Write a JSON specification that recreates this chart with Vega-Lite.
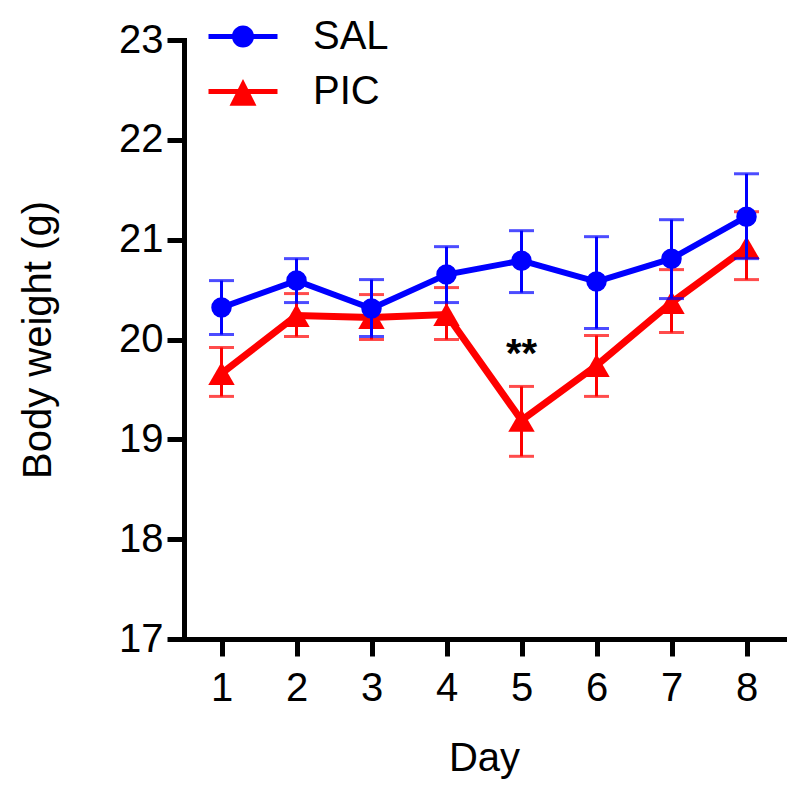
{
  "$schema": "https://vega.github.io/schema/vega-lite/v6.json",
  "width": 600,
  "height": 599,
  "autosize": "none",
  "padding": {"left": 184, "top": 40, "right": 16, "bottom": 157},
  "background": "white",
  "data": {
    "values": [
      {"day": 1, "group": "PIC", "mean": 19.66, "lo": 19.43, "hi": 19.92},
      {"day": 2, "group": "PIC", "mean": 20.24, "lo": 20.03, "hi": 20.46},
      {"day": 3, "group": "PIC", "mean": 20.22, "lo": 20.0, "hi": 20.45},
      {"day": 4, "group": "PIC", "mean": 20.25, "lo": 20.0, "hi": 20.52},
      {"day": 5, "group": "PIC", "mean": 19.19, "lo": 18.83, "hi": 19.53},
      {"day": 6, "group": "PIC", "mean": 19.74, "lo": 19.43, "hi": 20.04},
      {"day": 7, "group": "PIC", "mean": 20.37, "lo": 20.07, "hi": 20.7},
      {"day": 8, "group": "PIC", "mean": 20.92, "lo": 20.6, "hi": 21.28},
      {"day": 1, "group": "SAL", "mean": 20.32, "lo": 20.05, "hi": 20.59},
      {"day": 2, "group": "SAL", "mean": 20.59, "lo": 20.37, "hi": 20.81},
      {"day": 3, "group": "SAL", "mean": 20.31, "lo": 20.03, "hi": 20.6},
      {"day": 4, "group": "SAL", "mean": 20.65, "lo": 20.37, "hi": 20.93},
      {"day": 5, "group": "SAL", "mean": 20.79, "lo": 20.47, "hi": 21.09},
      {"day": 6, "group": "SAL", "mean": 20.58, "lo": 20.11, "hi": 21.03},
      {"day": 7, "group": "SAL", "mean": 20.81, "lo": 20.41, "hi": 21.2},
      {"day": 8, "group": "SAL", "mean": 21.23, "lo": 20.81, "hi": 21.66}
    ]
  },
  "encoding": {
    "x": {
      "field": "day",
      "type": "quantitative",
      "scale": {"domain": [0.5, 8.5], "nice": false, "zero": false},
      "axis": {
        "values": [1, 2, 3, 4, 5, 6, 7, 8],
        "title": "Day",
        "tickSize": 17,
        "labelPadding": 12,
        "titlePadding": 30,
        "labelFlush": false,
        "labelOverlap": false
      }
    },
    "y": {
      "field": "mean",
      "type": "quantitative",
      "scale": {"domain": [17, 23], "nice": false, "zero": false},
      "title": "Body weight (g)",
      "axis": {
        "values": [17, 18, 19, 20, 21, 22, 23],
        "format": "d",
        "tickSize": 17,
        "labelPadding": 4,
        "titlePadding": 60,
        "labelFlush": false,
        "labelOverlap": false
      }
    },
    "color": {
      "field": "group",
      "type": "nominal",
      "title": null,
      "scale": {"domain": ["SAL", "PIC"], "range": ["#0000ff", "#ff0000"]},
      "legend": {
        "orient": "none",
        "legendX": 24.5,
        "legendY": -38,
        "labelOffset": 35.5,
        "rowPadding": -4,
        "encode": {
          "symbols": {
            "update": {
              "shape": {"signal": "datum.value === 'SAL' ? 'M-1,-0.072L1,-0.072L1,0.072L-1,0.072Z M0.32,0A0.32,0.32,0,1,1,-0.32,0A0.32,0.32,0,1,1,0.32,0Z' : 'M-1,-0.07L1,-0.07L1,0.07L-1,0.07Z M0,-0.36L0.39,0.41L-0.39,0.41Z'"},
              "size": {"value": 4761},
              "x": {"value": 34.5},
              "fill": {"signal": "datum.value === 'SAL' ? '#0000ff' : '#ff0000'"},
              "strokeWidth": {"value": 0},
              "opacity": {"value": 1}
            }
          }
        }
      }
    }
  },
  "layer": [
    {
      "transform": [{"filter": "datum.group === 'PIC'"}],
      "layer": [
        {
          "mark": {"type": "errorbar", "thickness": 3, "ticks": {"size": 25, "thickness": 3}, "rule": {"strokeWidth": 3}},
          "encoding": {
            "y": {"field": "lo", "type": "quantitative", "title": "Body weight (g)"},
            "y2": {"field": "hi"}
          }
        },
        {
          "mark": {"type": "line", "strokeWidth": 7}
        },
        {
          "mark": {"type": "point", "shape": "triangle-up", "filled": true, "opacity": 1, "size": 700, "strokeWidth": 0}
        }
      ]
    },
    {
      "transform": [{"filter": "datum.group === 'SAL'"}],
      "layer": [
        {
          "mark": {"type": "errorbar", "thickness": 3, "ticks": {"size": 25, "thickness": 3}, "rule": {"strokeWidth": 3}},
          "encoding": {
            "y": {"field": "lo", "type": "quantitative", "title": "Body weight (g)"},
            "y2": {"field": "hi"}
          }
        },
        {
          "mark": {"type": "line", "strokeWidth": 6}
        },
        {
          "mark": {"type": "point", "shape": "circle", "filled": true, "opacity": 1, "size": 420, "strokeWidth": 0}
        }
      ]
    },
    {
      "data": {"values": [{"day": 5, "value": 19.72, "label": "**"}]},
      "mark": {"type": "text", "fontSize": 40, "fontWeight": "bold", "font": "Liberation Sans", "baseline": "alphabetic", "align": "center", "color": "black"},
      "encoding": {
        "y": {"field": "value", "type": "quantitative", "title": "Body weight (g)"},
        "text": {"field": "label"},
        "color": {"value": "black"}
      }
    }
  ],
  "config": {
    "view": {"stroke": null},
    "axis": {
      "domainColor": "black",
      "domainWidth": 5,
      "domainCap": "square",
      "tickColor": "black",
      "tickWidth": 5,
      "labelFont": "Liberation Sans",
      "labelFontSize": 40,
      "labelColor": "black",
      "titleFont": "Liberation Sans",
      "titleFontSize": 40,
      "titleFontWeight": "normal",
      "titleColor": "black",
      "grid": false
    },
    "legend": {
      "orient": "none",
      "padding": 0,
      "symbolSize": 100,
      "labelFontSize": 40,
      "labelFont": "Liberation Sans",
      "labelColor": "black",
      "labelLimit": 0,
      "symbolStrokeWidth": 0,
      "symbolOpacity": 1
    }
  }
}
